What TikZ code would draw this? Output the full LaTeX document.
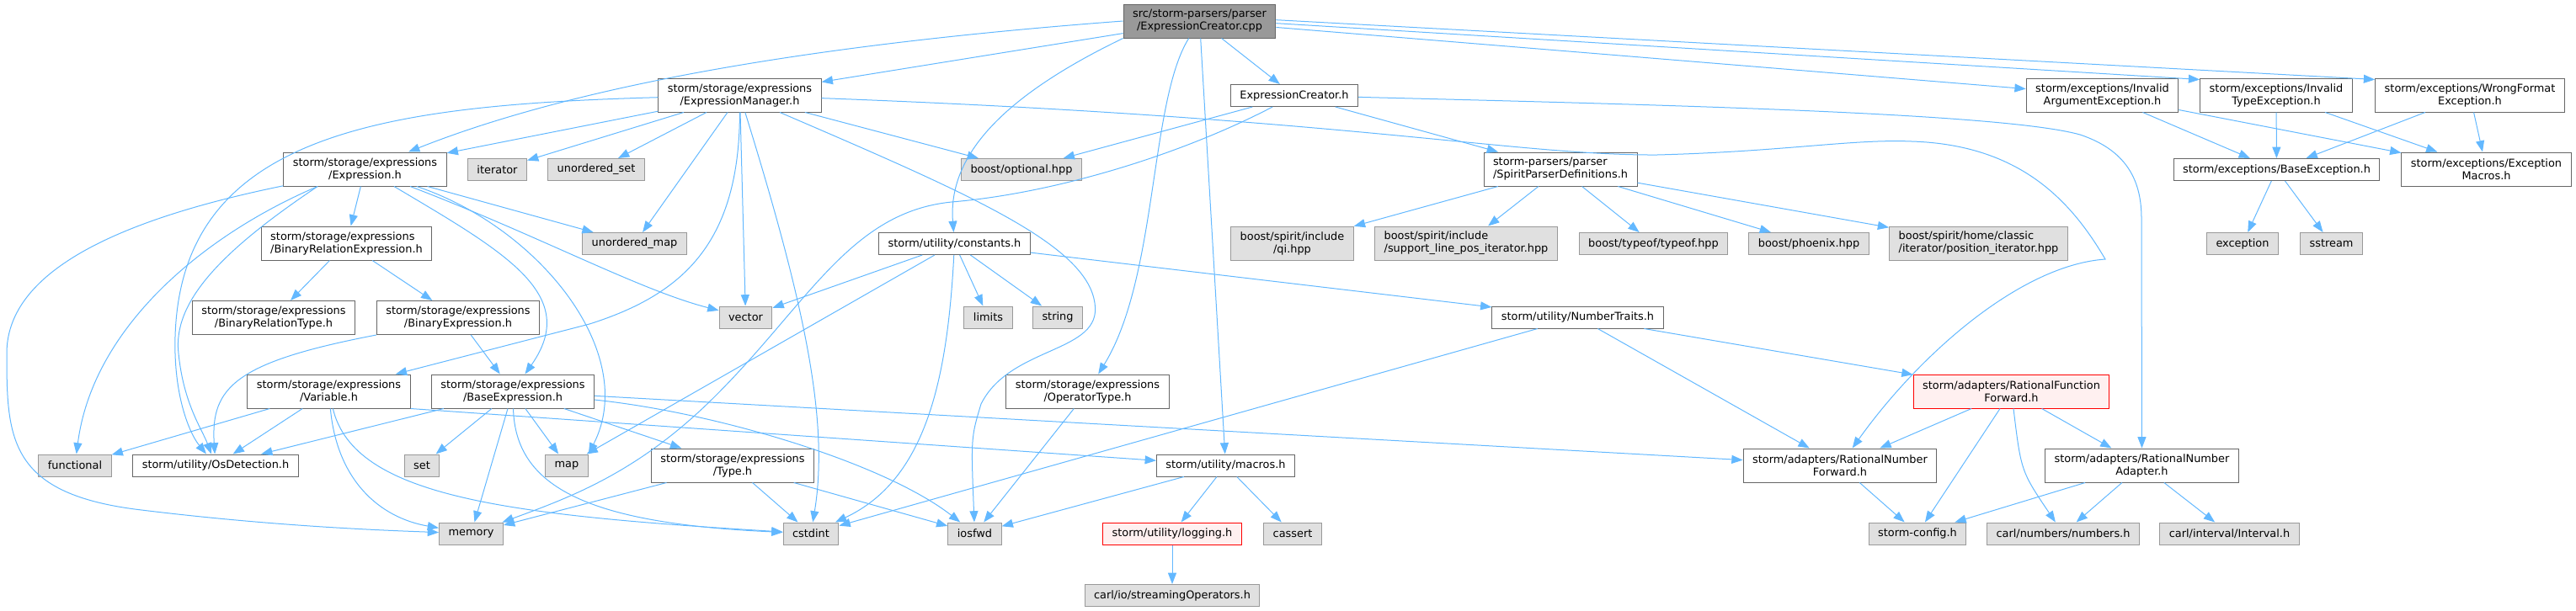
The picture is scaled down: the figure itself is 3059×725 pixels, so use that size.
\documentclass[tikz,border=0pt]{standalone}
\usepackage{fontspec}
\setmainfont{DejaVu Sans}
\usetikzlibrary{arrows.meta}
\definecolor{depblue}{HTML}{63B8FF}
\definecolor{hdrline}{HTML}{666666}
\definecolor{sysline}{HTML}{999999}
\definecolor{sysfill}{HTML}{E0E0E0}
\definecolor{curfill}{HTML}{999999}
\definecolor{trfill}{HTML}{FFF0F0}
\tikzset{
  hdr/.style={draw=hdrline, fill=white, line width=0.75pt, align=center,
    inner xsep=8.25pt, inner ysep=0pt, minimum height=19.5pt,
    font=\fontsize{9.67pt}{11.25pt}\selectfont},
  sys/.style={hdr, draw=sysline, fill=sysfill},
  cur/.style={hdr, fill=curfill},
  trunc/.style={hdr, draw=red, fill=trfill},
  two/.style={minimum height=30pt},
  dep/.style={draw=depblue, line width=0.75pt, -{Triangle[length=10pt,width=7.5pt]}},
}
\begin{document}
\begin{tikzpicture}[x=0.75pt, y=-0.75pt]
  \useasboundingbox (0,0) rectangle (3059,725);
  % rank 0 and 1
  \node[cur, two] (root) at (1424.5,25) {src/storm-parsers/parser\\/ExpressionCreator.cpp};
  \node[hdr, two] (EM) at (878.5,113) {storm/storage/expressions\\/ExpressionManager.h};
  \node[hdr] (ECh) at (1537,113.5) {ExpressionCreator.h};
  \node[hdr, two] (InvArg) at (2496.5,113) {storm/exceptions/Invalid\\ArgumentException.h};
  \node[hdr, two] (InvType) at (2703,113) {storm/exceptions/Invalid\\TypeException.h};
  \node[hdr, two] (WrongFmt) at (2933,113) {storm/exceptions/WrongFormat\\Exception.h};
  % rank 2
  \node[hdr, two] (Expr) at (433.5,201) {storm/storage/expressions\\/Expression.h};
  \node[sys] (iterator) at (590.5,201.5) {iterator};
  \node[sys] (uset) at (708,201.5) {unordered\_set};
  \node[sys] (optional) at (1213,201.5) {boost/optional.hpp};
  \node[hdr, two, align=left] (Spirit) at (1853,201) {storm-parsers/parser\\/SpiritParserDefinitions.h};
  \node[hdr] (BaseExc) at (2703.5,201.5) {storm/exceptions/BaseException.h};
  \node[hdr, two] (ExcMacros) at (2952.5,201) {storm/exceptions/Exception\\Macros.h};
  % rank 3
  \node[hdr, two, align=left] (BinRelExpr) at (411.5,289) {storm/storage/expressions\\/BinaryRelationExpression.h};
  \node[sys] (umap) at (753.5,289.5) {unordered\_map};
  \node[hdr] (constants) at (1133.5,289.5) {storm/utility/constants.h};
  \node[sys, two] (qi) at (1534.5,289) {boost/spirit/include\\/qi.hpp};
  \node[sys, two, align=left] (support) at (1741,289) {boost/spirit/include\\/support\_line\_pos\_iterator.hpp};
  \node[sys] (typeof) at (1963.5,289.5) {boost/typeof/typeof.hpp};
  \node[sys] (phoenix) at (2148,289.5) {boost/phoenix.hpp};
  \node[sys, two, align=left] (posit) at (2349.5,289) {boost/spirit/home/classic\\/iterator/position\_iterator.hpp};
  \node[sys] (exception) at (2663,289.5) {exception};
  \node[sys] (sstream) at (2768.5,289.5) {sstream};
  % rank 4
  \node[hdr, two] (BinRelType) at (325,377.5) {storm/storage/expressions\\/BinaryRelationType.h};
  \node[hdr, two] (BinExpr) at (544,377.5) {storm/storage/expressions\\/BinaryExpression.h};
  \node[sys] (vector) at (885.5,377) {vector};
  \node[sys] (limits) at (1173.5,377) {limits};
  \node[sys] (string) at (1256,377) {string};
  \node[hdr] (NumTraits) at (1873.5,377) {storm/utility/NumberTraits.h};
  % rank 5
  \node[hdr, two] (Variable) at (390.5,465) {storm/storage/expressions\\/Variable.h};
  \node[hdr, two] (BaseExpr) at (609,465) {storm/storage/expressions\\/BaseExpression.h};
  \node[hdr, two] (OperatorType) at (1291.5,465) {storm/storage/expressions\\/OperatorType.h};
  \node[trunc, two] (RatFunFwd) at (2388.5,465) {storm/adapters/RationalFunction\\Forward.h};
  % rank 6
  \node[sys] (functional) at (89,553) {functional};
  \node[hdr] (OsDet) at (256,553) {storm/utility/OsDetection.h};
  \node[sys] (set) at (501,553) {set};
  \node[sys] (map) at (673,553) {map};
  \node[hdr, two] (Type) at (870,553) {storm/storage/expressions\\/Type.h};
  \node[hdr] (macros) at (1455.5,553) {storm/utility/macros.h};
  \node[hdr, two] (RatNumFwd) at (2185,553) {storm/adapters/RationalNumber\\Forward.h};
  \node[hdr, two] (RatNumAdapter) at (2543.5,553) {storm/adapters/RationalNumber\\Adapter.h};
  % rank 7 and 8
  \node[sys] (memory) at (559.5,634) {memory};
  \node[sys] (cstdint) at (963,634) {cstdint};
  \node[sys] (iosfwd) at (1157.5,634) {iosfwd};
  \node[trunc] (logging) at (1392,634) {storm/utility/logging.h};
  \node[sys] (cassert) at (1535,634) {cassert};
  \node[sys] (stormcfg) at (2277,634) {storm-config.h};
  \node[sys] (numbers) at (2450,634) {carl/numbers/numbers.h};
  \node[sys] (interval) at (2647.5,634) {carl/interval/Interval.h};
  \node[sys] (streaming) at (1392,707.5) {carl/io/streamingOperators.h};

  % includes of the source file
  \draw[dep] (root) -- (EM);
  \draw[dep] (root.west) .. controls (1000,50) and (700,95) .. (Expr);
  \draw[dep] (root.south west) .. controls (1200,110) and (1125,180) .. (constants);
  \draw[dep] (root) -- (ECh);
  \draw[dep] (root) .. controls (1365,120) and (1375,330) .. (OperatorType);
  \draw[dep] (root) -- (macros);
  \draw[dep] (root) -- (InvArg);
  \draw[dep] ([yshift=-2pt]root.east) -- ([yshift=-1.5pt]InvType.north west);
  \draw[dep] ([yshift=1pt]root.east) -- ([yshift=-1.5pt]WrongFmt.north west);

  % ExpressionManager.h
  \draw[dep] (EM) -- (Expr);
  \draw[dep] (EM) -- (iterator);
  \draw[dep] (EM) -- (uset);
  \draw[dep] (EM) -- (umap);
  \draw[dep] (EM) -- (vector);
  \draw[dep] (EM) -- (optional);
  \draw[dep] (EM) .. controls (955,360) and (985,500) .. (cstdint);
  \draw[dep] (EM) .. controls (1150,230) and (1290,290) .. (1300,360)
    .. controls (1310,420) and (1200,410) .. (1165,480) .. controls (1153,520) .. (iosfwd);
  \draw[dep] (EM) .. controls (450,125) and (215,160) .. (208,400)
    .. controls (206,470) and (225,515) .. (OsDet);
  \draw[dep] (EM) .. controls (878,290) and (810,350) .. (700,385) -- (Variable);
  \draw[dep] (EM) .. controls (1600,140) and (1800,185) .. (1968,184)
    .. controls (2120,180) and (2200,165) .. (2270,168)
    .. controls (2400,172) and (2460,240) .. (2500,308)
    .. controls (2400,315) and (2280,420) .. (RatNumFwd);

  % ExpressionCreator.h
  \draw[dep] (ECh) -- (optional);
  \draw[dep] (ECh) -- (Spirit);
  \draw[dep] (ECh) .. controls (1400,185) and (1250,230) .. (1130,240)
    .. controls (1010,252) and (960,360) .. (850,470)
    .. controls (760,560) and (680,590) .. (memory);
  \draw[dep] (ECh) .. controls (2000,125) and (2380,135) .. (2470,160)
    .. controls (2530,180) and (2543,220) .. (2543,260) -- (RatNumAdapter);

  % constants.h
  \draw[dep] (constants) -- (vector);
  \draw[dep] (constants) -- (limits);
  \draw[dep] (constants) -- (string);
  \draw[dep] (constants) -- (map);
  \draw[dep] (constants) -- (NumTraits);
  \draw[dep] (constants) .. controls (1125,450) and (1100,570) .. (cstdint);

  % Expression.h
  \draw[dep] (Expr) .. controls (120,265) and (8,330) .. (8,420)
    .. controls (8,520) and (10,585) .. (160,605)
    .. controls (320,625) and (450,630) .. (memory);
  \draw[dep] (Expr.-160) .. controls (240,280) and (110,390) .. (functional);
  \draw[dep] (Expr.-160) .. controls (260,300) and (205,360) .. (212,420)
    .. controls (218,480) and (240,510) .. (OsDet);
  \draw[dep] (Expr) -- (BinRelExpr);
  \draw[dep] (Expr) .. controls (600,300) and (690,350) .. (BaseExpr);
  \draw[dep] (Expr) .. controls (640,270) and (760,420) .. (map.north east);
  \draw[dep] (Expr) .. controls (640,280) and (760,345) .. (vector);
  \draw[dep] (Expr) -- (umap);

  % expression headers
  \draw[dep] (BinRelExpr) -- (BinRelType);
  \draw[dep] (BinRelExpr) -- (BinExpr);
  \draw[dep] (BinExpr) -- (BaseExpr);
  \draw[dep] (BinExpr.south west) .. controls (280,430) and (250,460) .. (OsDet);
  \draw[dep] (Variable) -- (functional);
  \draw[dep] (Variable) -- (OsDet);
  \draw[dep] (Variable) .. controls (400,570) and (450,615) .. (memory);
  \draw[dep] (Variable) .. controls (420,590) and (600,612) .. (cstdint);
  \draw[dep] (Variable.south east) -- (macros);
  \draw[dep] (BaseExpr) -- (OsDet);
  \draw[dep] (BaseExpr) -- (set);
  \draw[dep] (BaseExpr) -- (memory);
  \draw[dep] (BaseExpr) -- (map);
  \draw[dep] (BaseExpr) .. controls (612,580) and (700,622) .. (cstdint);
  \draw[dep] (BaseExpr) .. controls (850,490) and (1050,550) .. (iosfwd);
  \draw[dep] (BaseExpr) -- (Type);
  \draw[dep] (BaseExpr) -- (RatNumFwd);
  \draw[dep] (Type) -- (memory);
  \draw[dep] (Type) -- (cstdint);
  \draw[dep] (Type) -- (iosfwd);
  \draw[dep] (OperatorType) -- (iosfwd);

  % utility
  \draw[dep] (macros) -- (iosfwd);
  \draw[dep] (macros) -- (logging);
  \draw[dep] (macros) -- (cassert);
  \draw[dep] (logging) -- (streaming);
  \draw[dep] (NumTraits) -- (cstdint);
  \draw[dep] (NumTraits) -- (RatNumFwd);
  \draw[dep] (NumTraits) -- (RatFunFwd);

  % adapters
  \draw[dep] (RatFunFwd) -- (RatNumFwd);
  \draw[dep] (RatFunFwd) -- (stormcfg);
  \draw[dep] (RatFunFwd) .. controls (2400,560) .. (numbers);
  \draw[dep] (RatFunFwd) -- (RatNumAdapter);
  \draw[dep] (RatNumFwd) -- (stormcfg);
  \draw[dep] (RatNumAdapter) -- (stormcfg);
  \draw[dep] (RatNumAdapter) -- (numbers);
  \draw[dep] (RatNumAdapter) -- (interval);

  % parser definitions
  \draw[dep] (Spirit) -- (qi);
  \draw[dep] (Spirit) -- (support);
  \draw[dep] (Spirit) -- (typeof);
  \draw[dep] (Spirit) -- (phoenix);
  \draw[dep] (Spirit) -- (posit);

  % exceptions
  \draw[dep] (InvArg) -- (BaseExc);
  \draw[dep] (InvArg) -- (ExcMacros);
  \draw[dep] (InvType) -- (BaseExc);
  \draw[dep] (InvType) -- (ExcMacros);
  \draw[dep] (WrongFmt) -- (BaseExc);
  \draw[dep] (WrongFmt) -- (ExcMacros);
  \draw[dep] (BaseExc) -- (exception);
  \draw[dep] (BaseExc) -- (sstream);
\end{tikzpicture}
\end{document}
